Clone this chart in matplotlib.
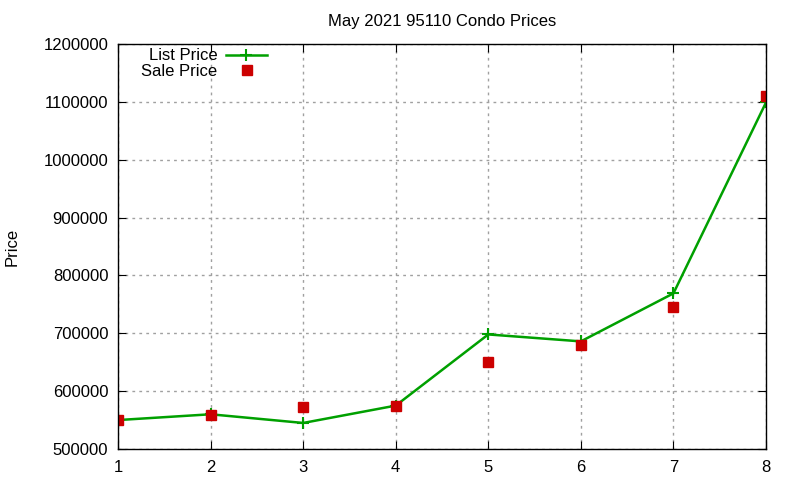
import matplotlib
matplotlib.use("Agg")
import matplotlib.pyplot as plt
from matplotlib.ticker import FormatStrFormatter

# values
rank = [1, 2, 3, 4, 5, 6, 7, 8]
list_price = [550000, 560000, 545000, 575000, 698000, 686000, 769000, 1099000]
sale_price = [550000, 559000, 573000, 575000, 650000, 680000, 745000, 1110000]

plt.rcParams['font.family'] = ['Liberation Sans', 'DejaVu Sans']
plt.rcParams['font.size'] = 12

fig = plt.figure(figsize=(8, 4.8), dpi=100)
ax = fig.add_axes([0.1475, 0.0646, 0.81, 0.8437])

ax.plot(rank, list_price, color='#00a000', linewidth=1.8, marker='+',
        markersize=9, markeredgewidth=1.5, label='List Price')
ax.plot(rank, sale_price, linestyle='none', marker='s', color='#cc0000',
        markersize=6.5, label='Sale Price')

ax.set_xlim(1, 8)
ax.set_ylim(500000, 1200000)
ax.set_xticks(rank)
ax.set_yticks(range(500000, 1200001, 100000))
ax.yaxis.set_major_formatter(FormatStrFormatter('%d'))
ax.tick_params(direction='in', length=6, top=True, right=True, labelsize=12)
ax.tick_params(axis='x', pad=8)
ax.tick_params(axis='y', pad=7)
ax.grid(True, color='#a0a0a0', linestyle=(0, (2, 3)), linewidth=1)
for s in ax.spines.values():
    s.set_linewidth(1)

ax.set_title('May 2021 95110 Condo Prices', fontsize=12, pad=13)
fig.text(12 / 800, 1 - 247 / 480, 'Price', rotation=90, ha='center',
         va='center', fontsize=12)

leg = ax.legend(loc='upper right', bbox_to_anchor=(274 / 800, 0.913),
                bbox_transform=fig.transFigure, frameon=False,
                markerfirst=False, handlelength=2.5, handletextpad=0.5,
                labelspacing=0.05, borderaxespad=0, fontsize=12)
for t in leg.get_texts():
    t.set_ha('right')

fig.savefig('out.png', dpi=100)
